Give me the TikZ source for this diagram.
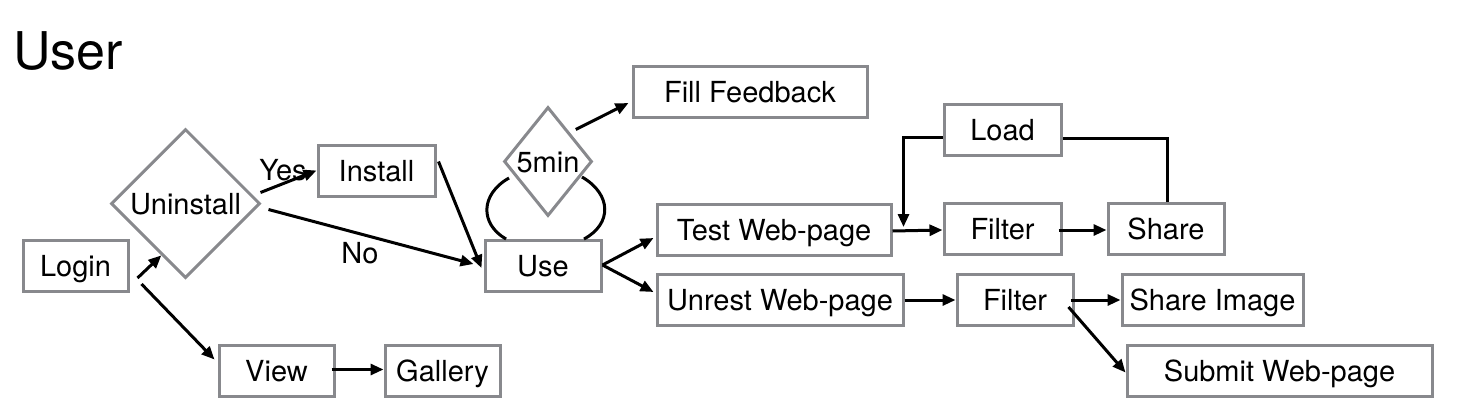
\documentclass[tikz,border=0pt]{standalone}
\usepackage{fontspec}
\setmainfont{TeX Gyre Heros}
\usetikzlibrary{arrows.meta,shapes.geometric,calc}
\definecolor{boxgray}{RGB}{136,137,141}
\begin{document}
\begin{tikzpicture}[x=1pt,y=-1pt,
  txt/.style={font=\fontsize{29}{34}\selectfont},
  box/.style={txt, draw=boxgray, line width=3pt, rectangle, inner sep=0pt,
    minimum height=51pt, text height=21pt, text depth=0pt},
  dia/.style={txt, draw=boxgray, line width=3pt, diamond, inner sep=0pt,
    text height=21pt, text depth=0pt},
  arr/.style={line width=3pt, -{Triangle[length=13pt,width=11pt]}},
  ln/.style={line width=3pt}]
\useasboundingbox (0,0) rectangle (1466,408);

\node[anchor=base west, inner sep=0pt, font=\fontsize{52}{60}\selectfont] (title) at (13,69) {User};

\node[box, minimum width=105pt] (login) at (75.5,266) {Login};
\node[dia, minimum width=149pt, minimum height=149pt] (uninst) at (185.5,203.5) {Uninstall};
\node[box, minimum width=117pt] (install) at (376.5,170.5) {Install};
\node[box, minimum width=115pt] (view) at (276.5,370.5) {View};
\node[box, minimum width=115pt] (gallery) at (442.5,370.5) {Gallery};
\node[box, minimum width=116pt] (use) at (543,266) {Use};
\node[dia, minimum width=88pt, minimum height=109pt] (five) at (548,161.5) {5min};
\node[box, minimum width=234pt] (fill) at (750,92) {Fill Feedback};
\node[box, minimum width=234pt] (test) at (774,230) {Test Web-page};
\node[box, minimum width=246pt] (unrest) at (780,300) {Unrest Web-page};
\node[box, minimum width=117pt] (load) at (1002.5,130) {Load};
\node[box, minimum width=117pt] (f1) at (1002.5,229) {Filter};
\node[box, minimum width=116pt] (share) at (1166,229) {Share};
\node[box, minimum width=116pt] (f2) at (1015,300) {Filter};
\node[box, minimum width=181pt] (si) at (1212.5,300) {Share Image};
\node[box, minimum width=305pt] (submit) at (1279.5,370.5) {Submit Web-page};

\node[txt, anchor=base, inner sep=0pt] (yes) at (283,180) {Yes};
\node[txt, anchor=base, inner sep=0pt] (no) at (360,263) {No};

% left part
\draw[arr] ($(login.east)+(8,12)$) -- (uninst.-115);
\draw[arr] ($(login.east)+(12,18)$) -- ($(view.west)+(-3,-11)$);
\draw[arr] ($(uninst.east)+(-1,-11)$) -- (install.west);
\draw[arr] ($(uninst.east)+(7,6)$) -- ($(use.west)+(-10,-2)$);
\draw[arr] ($(install.east)+(2,-9)$) -- ($(use.west)+(-2,2)$);
\draw[arr] ($(view.east)+(-4,-1)$) -- ($(gallery.west)+(0,-1)$);

% use / 5min
\draw[arr] ($(use.east)+(0,-1)$) -- ($(test.west)+(-2,8)$);
\draw[arr] ($(use.east)+(0,-1)$) -- ($(unrest.west)+(-2,-8)$);
\draw[arr] ($(five.north east)+(5,-4)$) -- ($(fill.west)+(-3,11)$);
\draw[ln] ($(five.center)+(-39,16.5)$) .. controls ($(five.center)+(-68,33)$) and ($(use.north)+(-63,-15)$) .. ($(use.north)+(-37,0)$);
\draw[ln] ($(five.center)+(34,15.5)$) .. controls ($(five.center)+(64,33)$) and ($(use.north)+(69,-15)$) .. ($(use.north)+(41,0)$);

% right part
\draw[arr] ($(test.east)+(0,1)$) -- ($(f1.west)+(0,1)$);
\draw[arr] ($(load.west)+(0,7)$) -| ($(test.east)+(11,-3)$);
\draw[arr] ($(f1.east)+(-4,1)$) -- ($(share.west)+(0,1)$);
\draw[ln] ($(share.north)+(1,0)$) |- ($(load.east)+(0,8)$);
\draw[arr] (unrest.east) -- (f2.west);
\draw[arr] ($(f2.east)+(-4,0)$) -- (si.west);
\draw[arr] ($(f2.east)+(-6,7)$) -- ($(submit.west)+(0,2)$);
\end{tikzpicture}
\end{document}
